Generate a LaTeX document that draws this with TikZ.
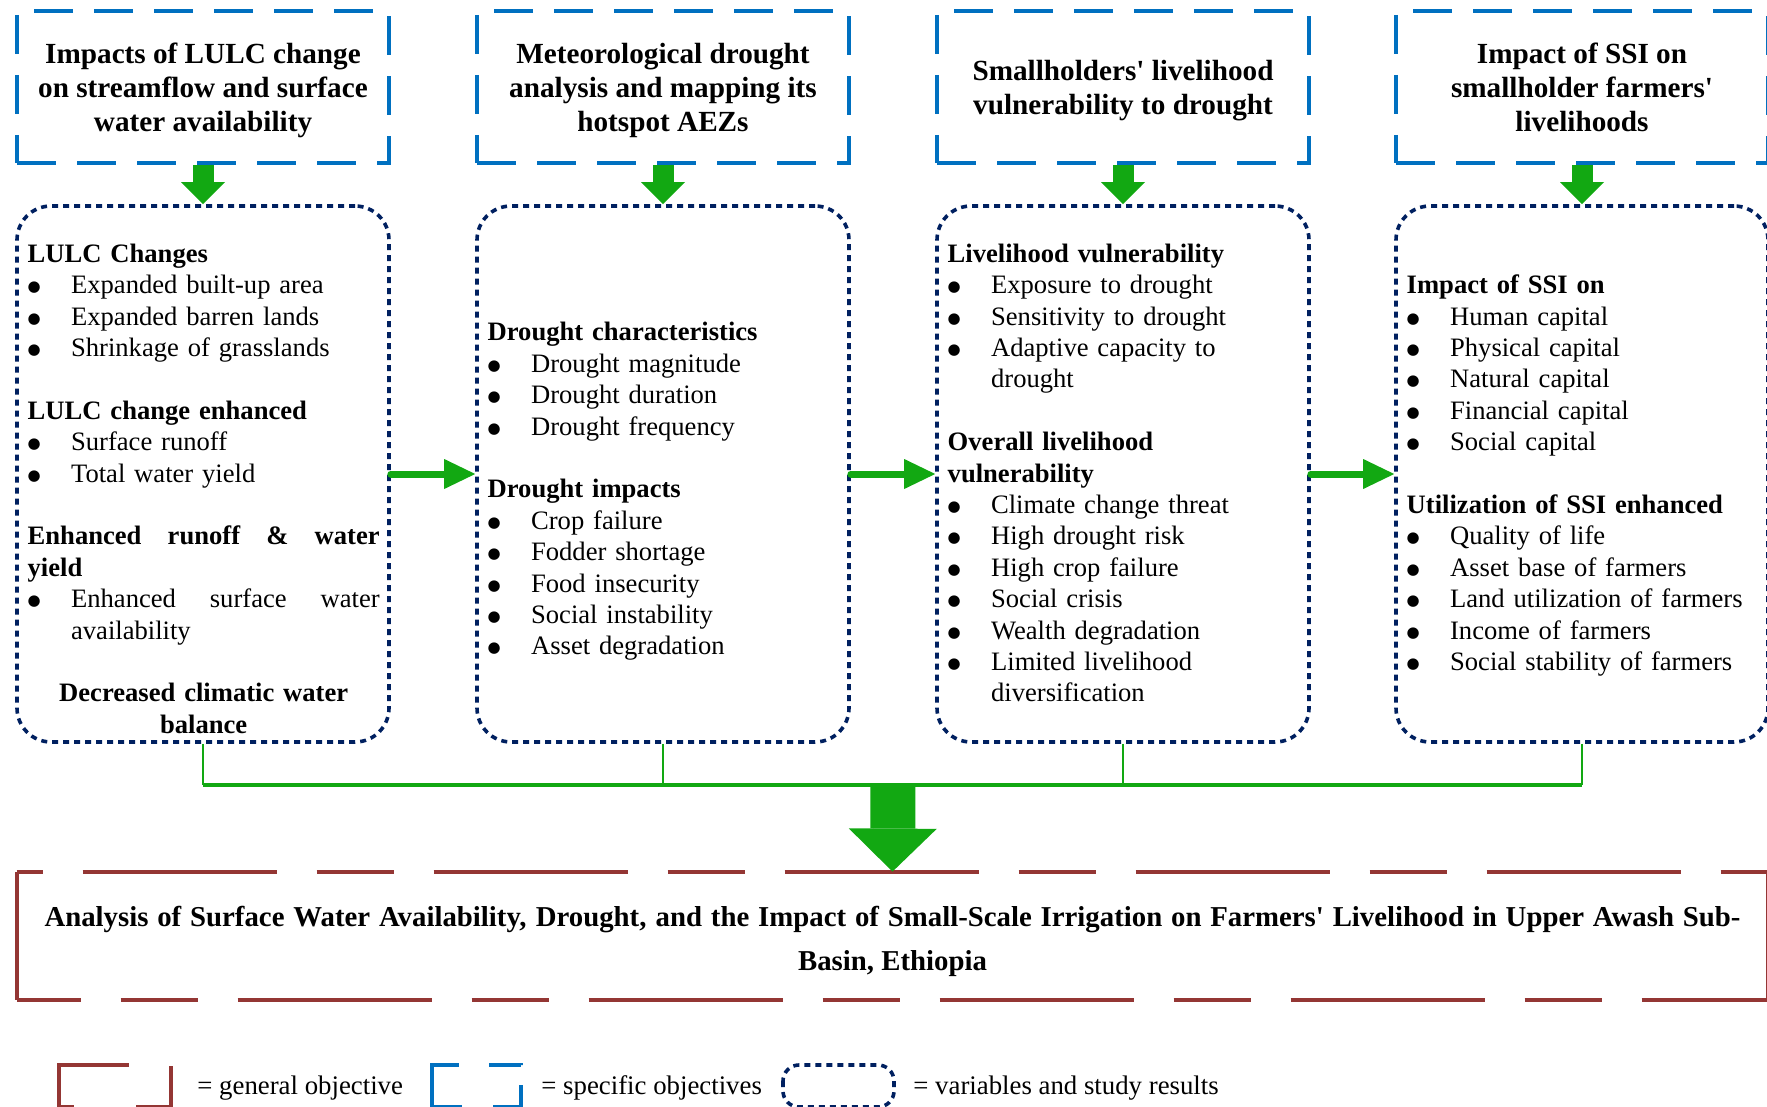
\documentclass[tikz,border=0pt]{standalone}
\usepackage{fontspec}
\setmainfont{Liberation Serif}
\newfontfamily\dotfont{DejaVu Sans}
\usetikzlibrary{arrows.meta}
\definecolor{specblue}{RGB}{0,112,192}
\definecolor{varnavy}{RGB}{0,32,96}
\definecolor{genred}{RGB}{148,54,52}
\definecolor{flowgreen}{RGB}{18,168,18}
\newcommand{\bitem}[1]{\par\hangindent=21.7pt\hangafter=1\noindent\hbox to 21.7pt{\raisebox{1pt}{\dotfont\fontsize{7.5}{8}\selectfont ●}\hfil}#1\par}
\newcommand{\gap}{\par\vspace{\baselineskip}}

\begin{document}
\begin{tikzpicture}[x=0.5pt, y=-0.5pt,
    specbox/.style={draw=specblue, line width=2.2pt, dash pattern=on 19.5pt off 10.5pt,
      minimum width=186pt, minimum height=76pt, inner sep=0pt, align=center,
      font=\fontsize{14.6}{17}\selectfont\bfseries},
    varline/.style={draw=varnavy, line width=1.8pt, dash pattern=on 3pt off 2.5pt},
    varbox/.style={varline, rounded corners=17pt, minimum width=186pt, minimum height=268pt, inner sep=0pt},
    vartext/.style={anchor=north west, inner sep=0pt, text width=176pt, align=left,
      font=\fontsize{13.3}{15.7}\selectfont},
    genbox/.style={minimum width=875.5pt, minimum height=64pt, inner sep=0pt, align=center,
      font=\fontsize{14.4}{22}\selectfont\bfseries},
    genline/.style={draw=genred, line width=2pt},
    gendash/.style={dash pattern=on 97pt off 20pt on 38.5pt off 20pt},
    legtext/.style={anchor=base west, inner sep=0pt, font=\fontsize{13.4}{16}\selectfont},
    flowdown/.style={draw=flowgreen, line width=10.5pt, -{Triangle[length=11pt, width=22pt, line width=0pt]}},
    flowright/.style={draw=flowgreen, line width=3.5pt, line cap=round, -{Triangle[length=15.5pt, width=15pt, line width=0pt]}},
    busline/.style={draw=flowgreen, line width=1.4pt},
    busbar/.style={draw=flowgreen, line width=2.3pt},
    bigflow/.style={draw=flowgreen, line width=22.5pt, -{Triangle[length=21.5pt, width=44pt, line width=0pt]}}
  ]
  \useasboundingbox (0,0) rectangle (1767,1107);

  \node[specbox] (s1) at (203,87) {\rule{0pt}{15.3pt}Impacts of LULC change\\on streamflow and surface\\water availability\strut};
  \node[specbox] (s2) at (663,87) {\rule{0pt}{15.3pt}Meteorological drought\\analysis and mapping its\\hotspot AEZs\strut};
  \node[specbox] (s3) at (1123,87) {\rule{0pt}{15.3pt}Smallholders\textquotesingle{} livelihood\\vulnerability to drought\strut};
  \node[specbox] (s4) at (1582,87) {\rule{0pt}{15.3pt}Impact of SSI on\\smallholder farmers\textquotesingle\\livelihoods\strut};

  \node[varbox] (v1) at (203,474) {};
  \node[varbox] (v2) at (663,474) {};
  \node[varbox] (v3) at (1123,474) {};
  \node[varbox] (v4) at (1582,474) {};

  \node[vartext] (t1) at (27.3,240) {\strut\textbf{LULC Changes}\par
    \bitem{Expanded built-up area}
    \bitem{Expanded barren lands}
    \bitem{Shrinkage of grasslands}\gap
    \textbf{LULC change enhanced}\par
    \bitem{Surface runoff}
    \bitem{Total water yield}\gap
    \noindent\textbf{Enhanced\hfill runoff\hfill \&\hfill water}\newline\textbf{yield}\par
    \bitem{Enhanced\hfill surface\hfill water\newline availability}\gap
    {\centering\textbf{Decreased climatic water}\\\textbf{balance}\par}};
  \node[vartext] (t2) at (487.3,318.6) {\strut\textbf{Drought characteristics}\par
    \bitem{Drought magnitude}
    \bitem{Drought duration}
    \bitem{Drought frequency}\gap
    \textbf{Drought impacts}\par
    \bitem{Crop failure}
    \bitem{Fodder shortage}
    \bitem{Food insecurity}
    \bitem{Social instability}
    \bitem{Asset degradation}};
  \node[vartext] (t3) at (947.3,240) {\strut\textbf{Livelihood vulnerability}\par
    \bitem{Exposure to drought}
    \bitem{Sensitivity to drought}
    \bitem{Adaptive capacity to\newline drought}\gap
    \textbf{Overall livelihood}\\\textbf{vulnerability}\par
    \bitem{Climate change threat}
    \bitem{High drought risk}
    \bitem{High crop failure}
    \bitem{Social crisis}
    \bitem{Wealth degradation}
    \bitem{Limited livelihood\newline diversification}};
  \node[vartext] (t4) at (1406.3,271.4) {\strut\textbf{Impact of SSI on}\par
    \bitem{Human capital}
    \bitem{Physical capital}
    \bitem{Natural capital}
    \bitem{Financial capital}
    \bitem{Social capital}\gap
    \textbf{Utilization of SSI enhanced}\par
    \bitem{Quality of life}
    \bitem{Asset base of farmers}
    \bitem{Land utilization of farmers}
    \bitem{Income of farmers}
    \bitem{Social stability of farmers}};

  \foreach \i in {1,...,4}
    \draw[flowdown] (s\i.south) -- (v\i.north);
  \foreach \i/\j in {1/2,2/3,3/4}
    \draw[flowright] (v\i.east) -- (v\j.west);

  \node[genbox] (gen) at (892.5,936) {\makebox[848pt][s]{\rule{0pt}{18.8pt}Analysis of Surface Water Availability, Drought, and the Impact of Small-Scale Irrigation on Farmers\textquotesingle{} Livelihood in Upper Awash Sub-}\\Basin, Ethiopia\strut};
  \draw[genline, gendash, dash phase=142.5pt] (gen.north west) -- (gen.north east);
  \draw[genline, gendash, dash phase=65pt] (gen.south west) -- (gen.south east);
  \draw[genline] (gen.north west) -- (gen.south west);
  \draw[genline] (gen.north east) -- (gen.south east);

  \coordinate (bus) at (893,785);
  \foreach \i in {1,...,4}
    \draw[busline] (v\i.south) -- (v\i.south |- bus);
  \draw[busbar] (v1.south |- bus) -- (v4.south |- bus);
  \draw[bigflow] (bus) -- (gen.north);

  \draw[genline, dash pattern=on 56pt off 21.5pt on 38pt off 31pt on 8.5pt off 1pt]
    (59,1107) -- (59,1065) -- (171,1065) -- (171,1107) -- (59,1107);
  \draw[draw=specblue, line width=2.2pt, dash pattern=on 34.5pt off 15pt on 16pt off 10pt on 25pt off 15.5pt on 16pt off 1pt]
    (432,1107) -- (432,1065) -- (521,1065) -- (521,1107) -- (432,1107);
  \draw[varline, rounded corners=8pt] (783,1065) rectangle (894,1107);
  \node[legtext] (lg1) at (197,1094.5) {= general objective};
  \node[legtext] (lg2) at (541,1094.5) {= specific objectives};
  \node[legtext] (lg3) at (913,1094.5) {= variables and study results};
\end{tikzpicture}
\end{document}
